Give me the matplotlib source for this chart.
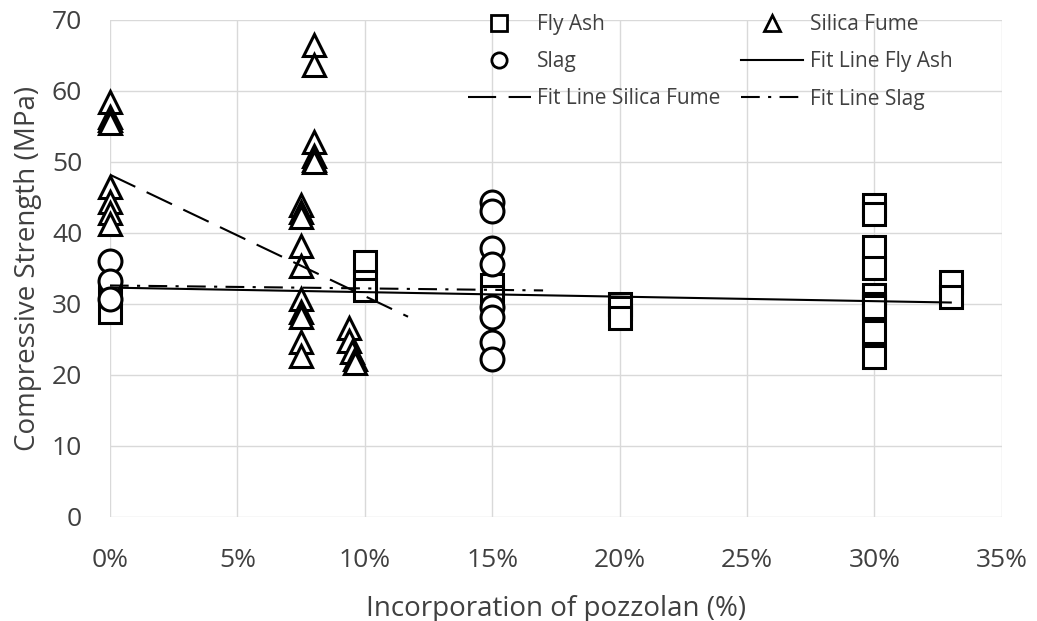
import numpy as np
import matplotlib
matplotlib.use("Agg")
import matplotlib.pyplot as plt
from matplotlib.ticker import MultipleLocator, PercentFormatter
from matplotlib.lines import Line2D

# pozzolan content (%) and compressive strength (MPa) per mix
fly_ash_x = [0, 0, 10, 10, 10, 15, 15, 20, 20, 20,
             30, 30, 30, 30, 30, 30, 30, 30, 30, 33, 33]
fly_ash_y = [28.9, 31.5, 35.9, 33.1, 32.0, 32.6, 31.0, 30.0, 29.4, 28.0,
             43.9, 42.6, 38.0, 35.0, 31.2, 30.0, 29.5, 26.1, 22.5, 33.1, 31.0]

silica_fume_x = [0, 0, 0, 0, 0, 0, 0, 0,
                 8, 8, 8, 8, 8, 8,
                 7.5, 7.5, 7.5, 7.5, 7.5, 7.5, 7.5, 7.5, 7.5, 7.5,
                 9.4, 9.4, 9.5, 9.6, 9.6]
silica_fume_y = [58.5, 56.3, 55.9, 55.5, 46.5, 44.3, 42.8, 41.3,
                 66.4, 63.6, 52.8, 50.8, 50.3, 50.0,
                 44.0, 43.0, 42.3, 38.2, 35.4, 30.7, 28.9, 28.1, 24.6, 22.6,
                 26.6, 24.8, 23.2, 22.2, 21.7]

slag_x = [0, 0, 0, 15, 15, 15, 15, 15, 15, 15, 15]
slag_y = [36.0, 33.2, 30.7, 44.3, 43.1, 37.9, 35.6, 29.5, 28.2, 24.6, 22.3]

# linear trendline end points
fit_fly_ash_x = [0, 33]
fit_fly_ash_y = [32.3, 30.2]
fit_silica_fume_x = [0, 11.7]
fit_silica_fume_y = [48.2, 28.2]
fit_slag_x = [0, 17]
fit_slag_y = [32.6, 31.9]

plt.rcParams["font.family"] = ["Open Sans", "DejaVu Sans"]
text_col = "#404040"
dash_sf = (13.5, 6)
dash_slag = (9, 4, 1.5, 4)

fig = plt.figure(figsize=(10.37, 6.21), dpi=100)
ax = fig.add_axes([0.106, 0.1675, 0.86, 0.8005])

mk = dict(linestyle="none", markersize=16.5, markeredgewidth=2.2,
          markeredgecolor="black", markerfacecolor="white", clip_on=False)
ax.plot(fly_ash_x, fly_ash_y, marker="s", zorder=3, **mk)
ax.plot(silica_fume_x, silica_fume_y, marker="^", zorder=3, **mk)
ax.plot(slag_x, slag_y, marker="o", zorder=3, **mk)

ax.plot(fit_fly_ash_x, fit_fly_ash_y, color="black", lw=1.5, zorder=4)
ax.plot(fit_silica_fume_x, fit_silica_fume_y, color="black", lw=1.5,
        dashes=dash_sf, zorder=4)
ax.plot(fit_slag_x, fit_slag_y, color="black", lw=1.5,
        dashes=dash_slag, zorder=4)

ax.set_xlim(0, 35)
ax.set_ylim(0, 70)
ax.xaxis.set_major_locator(MultipleLocator(5))
ax.yaxis.set_major_locator(MultipleLocator(10))
ax.xaxis.set_major_formatter(PercentFormatter(xmax=100, decimals=0))
ax.grid(True, color="#d9d9d9", lw=1)
ax.set_axisbelow(True)
for s in ax.spines.values():
    s.set_visible(False)
ax.tick_params(length=0, labelsize=19, colors=text_col)
ax.tick_params(axis="x", pad=22)
ax.tick_params(axis="y", pad=20)

ax.set_xlabel("Incorporation of pozzolan (%)", fontsize=20, color=text_col, labelpad=16)
ax.set_ylabel("Compressive Strength (MPa)", fontsize=20, color=text_col, labelpad=7)

# legend: two columns, markers first then fit lines
mleg = dict(linestyle="none", markersize=11, markeredgewidth=2,
            markeredgecolor="black", markerfacecolor="white")
handles = [
    Line2D([], [], marker="s", **mleg),
    Line2D([], [], marker="o", **mleg),
    Line2D([], [], color="black", lw=1.5, dashes=dash_sf),
    Line2D([], [], marker="^", **mleg),
    Line2D([], [], color="black", lw=1.5),
    Line2D([], [], color="black", lw=1.5, dashes=dash_slag),
]
labels = ["Fly Ash", "Slag", "Fit Line Silica Fume",
          "Silica Fume", "Fit Line Fly Ash", "Fit Line Slag"]
fig.legend(handles, labels, ncol=2, loc="upper left",
           bbox_to_anchor=(468 / 1037, 1 - 14 / 621), frameon=False,
           fontsize=15, labelcolor=text_col, borderpad=0, borderaxespad=0,
           handlelength=3.0, handletextpad=0.3, columnspacing=1.0,
           labelspacing=0.78)

fig.savefig("out.png", dpi=100)
